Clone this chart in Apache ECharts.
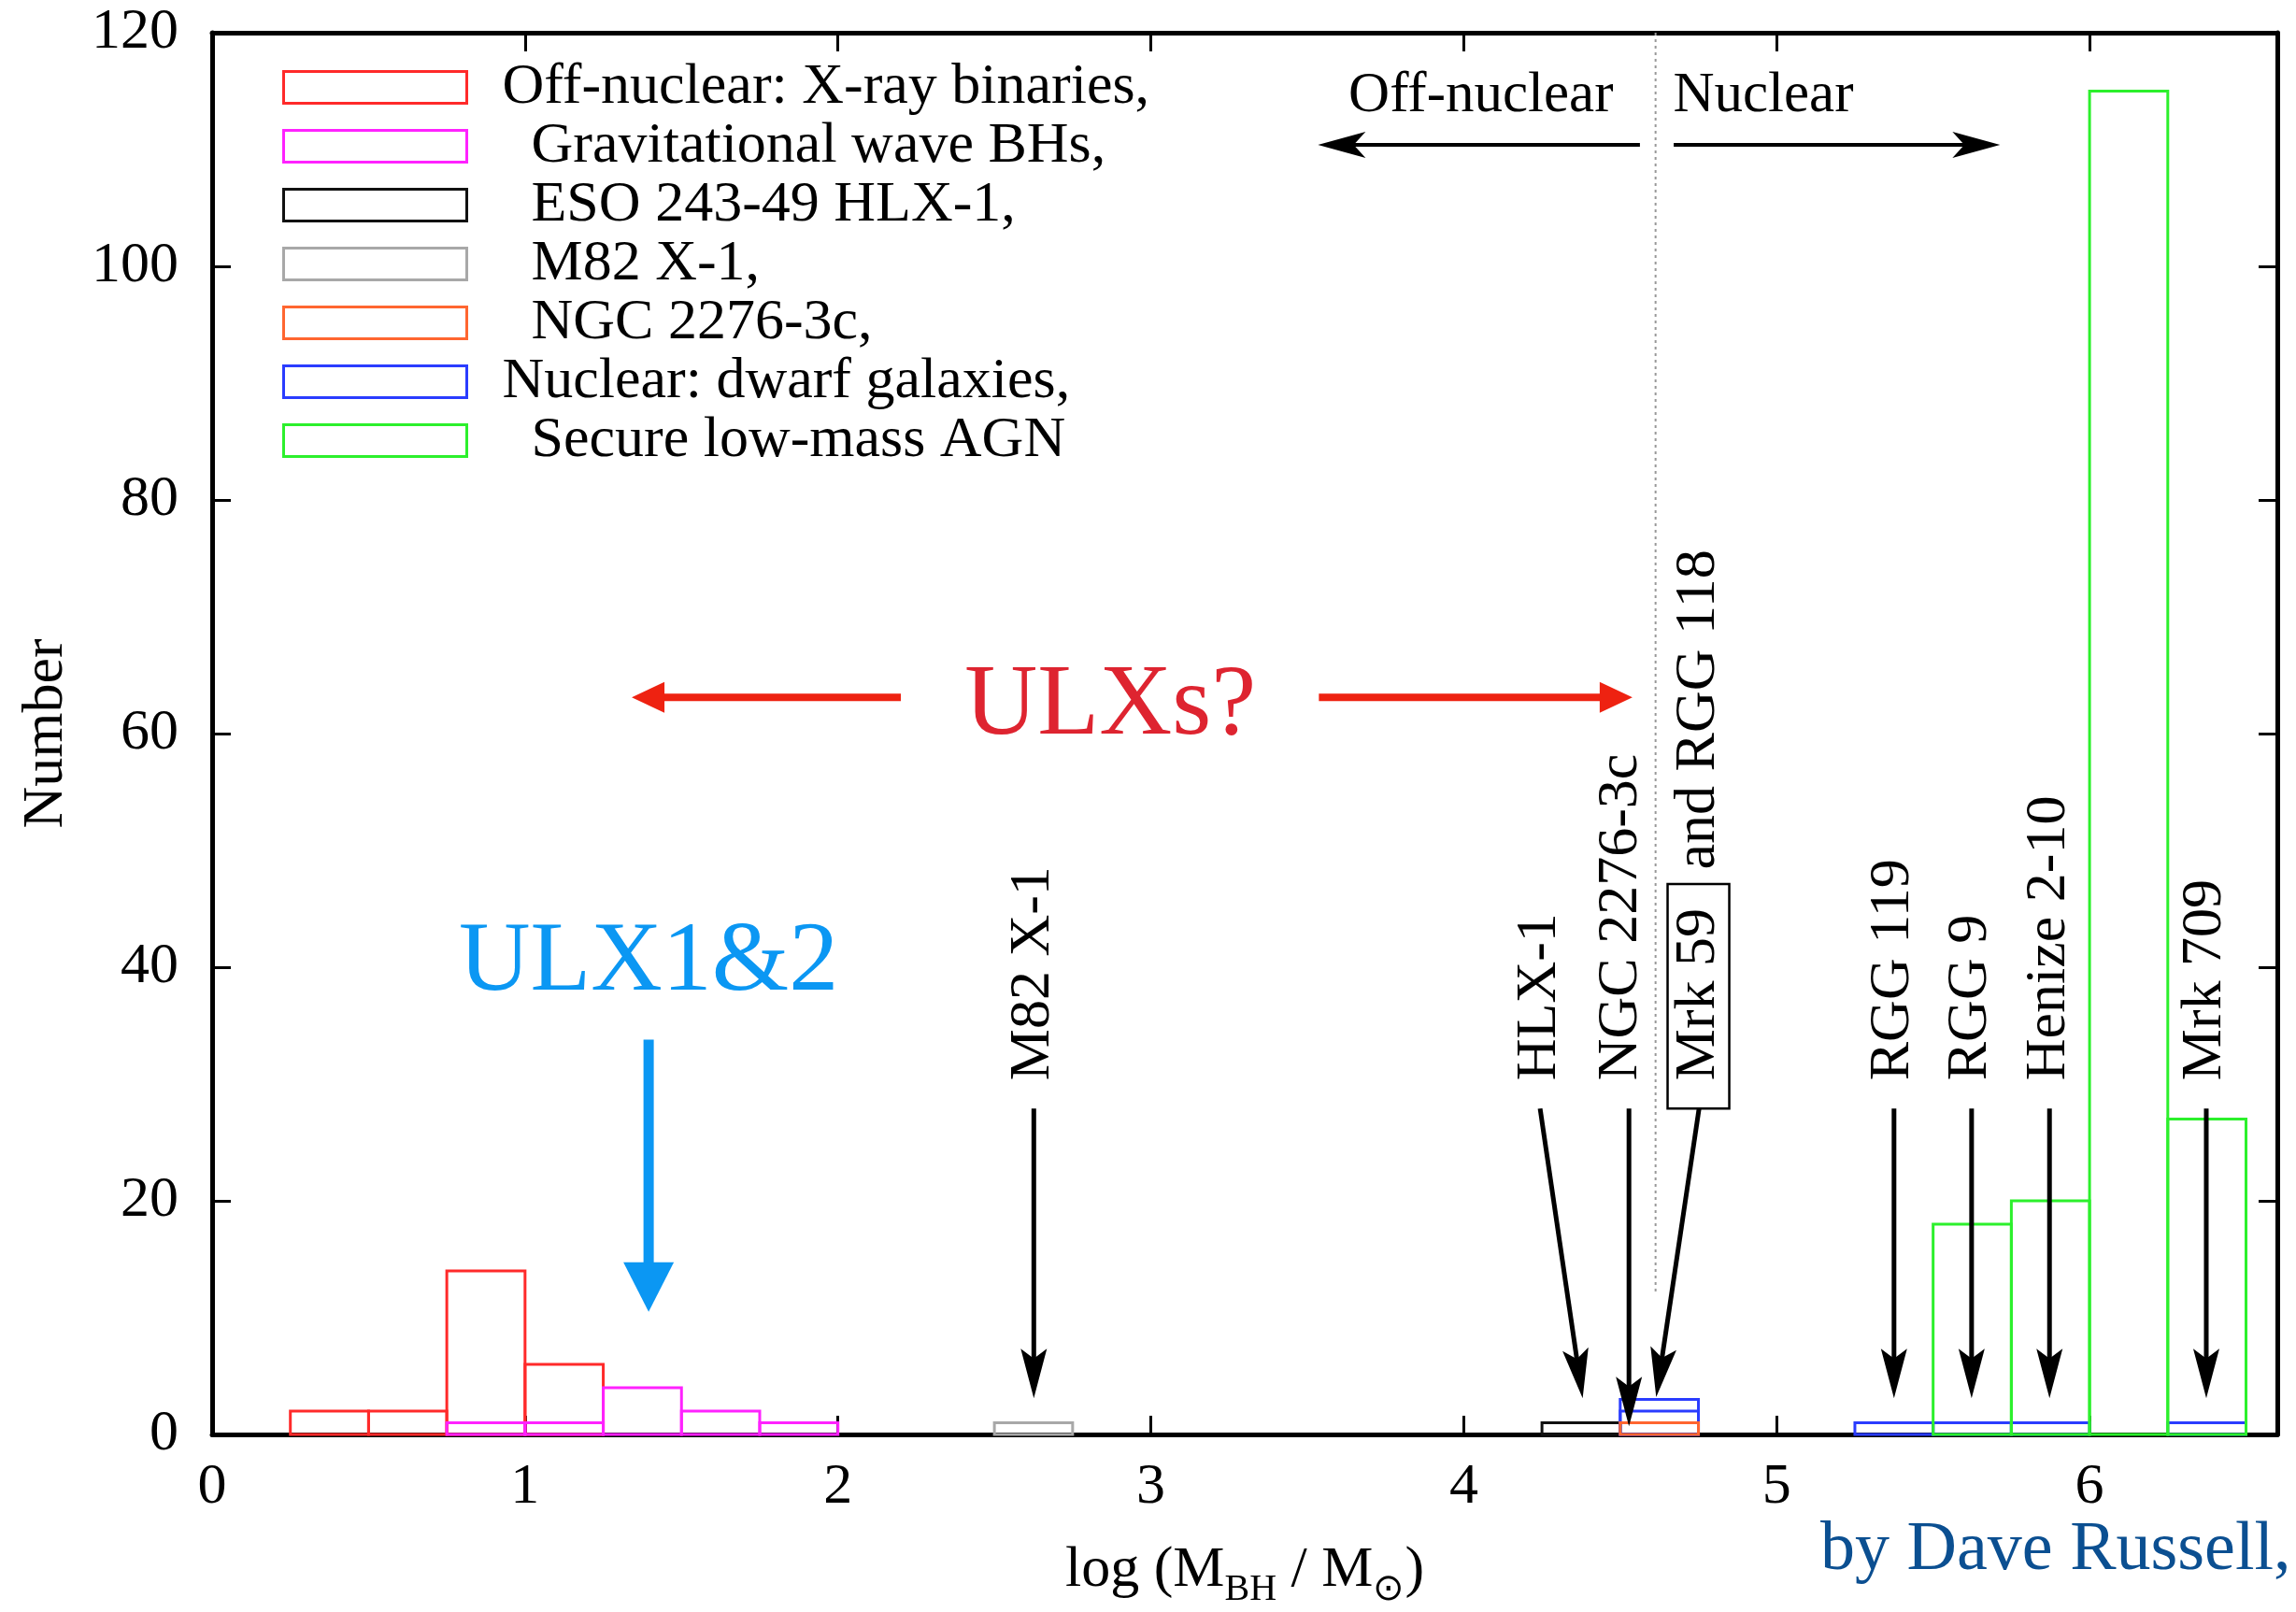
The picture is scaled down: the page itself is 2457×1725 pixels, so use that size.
<!DOCTYPE html>
<html><head><meta charset="utf-8">
<script src="https://cdn.jsdelivr.net/npm/echarts@6/dist/echarts.min.js"></script>
<style>html,body{margin:0;padding:0;background:#fff}#c{width:2457px;height:1725px}</style>
</head><body><div id="c"></div>
<script>
// ---------------- data ----------------
const BIN = 0.25;
const X_MIN = 0, X_MAX = 6.6, X_STEP = 1;
const Y_MIN = 0, Y_MAX = 120, Y_STEP = 20;

const seriesNames = [
  'Off-nuclear: X-ray binaries,',
  'Gravitational wave BHs,',
  'ESO 243-49 HLX-1,',
  'M82 X-1,',
  'NGC 2276-3c,',
  'Nuclear: dwarf galaxies,',
  'Secure low-mass AGN'
];
const xrbBins = [0.25, 0.5, 0.75, 1.0];
const xrbCounts = [2, 2, 14, 6];
const gwBins = [0.75, 1.0, 1.25, 1.5, 1.75];
const gwCounts = [1, 1, 4, 2, 1];
const hlxBins = [4.25];
const hlxCounts = [1];
const m82Bins = [2.5];
const m82Counts = [1];
const ngcBins = [4.5];
const ngcCounts = [1];
const dwarfBins = [4.5, 5.25, 5.5, 5.75, 6.25];
const dwarfCounts = [3, 1, 1, 1, 1];
const dwarfSubBins = [4.5];
const dwarfSubCounts = [2];
const agnBins = [5.5, 5.75, 6.0, 6.25];
const agnCounts = [18, 20, 115, 27];

// annotations (data space)
const objLabels = ['M82 X-1', 'HLX-1', 'NGC 2276-3c', 'Mrk 59|and RGG 118', 'RGG 119', 'RGG 9', 'Henize 2-10', 'Mrk 709'];
const objArrowFromX = [2.626, 4.244, 4.528, 4.752, 5.375, 5.623, 5.872, 6.373];
const objArrowToX   = [2.626, 4.380, 4.528, 4.615, 5.375, 5.623, 5.872, 6.373];
const objArrowToY   = [3.1, 3.1, 0.7, 3.2, 3.1, 3.1, 3.1, 3.1];
const objLabelX     = [2.623, 4.244, 4.503, 4.750, 5.372, 5.621, 5.870, 6.368];
const OBJ_ARROW_FROM_Y = 27.9;
const OBJ_LABEL_Y = 30.3;

const divideX = 4.613;
const divideYFrom = 12.2;

// ---------------- styles ----------------
const colors = ['#ff2a2a', '#ff22ff', '#111111', '#a8a8a8', '#ff6630', '#2a3cff', '#2cf02c'];
const SERIF = '"Liberation Serif", "Times New Roman", serif';
const FS = 62;

const chart = echarts.init(document.getElementById('c'), null, {renderer: 'canvas'});

function histSeries(name, bins, counts, color, z) {
  return {
    type: 'custom', name: name, z: z,
    coordinateSystem: 'cartesian2d',
    itemStyle: {color: color},
    data: bins.map((b, i) => [b, counts[i]]),
    renderItem: function (params, api) {
      const x0 = api.value(0), n = api.value(1);
      const p0 = api.coord([x0, 0]);
      const p1 = api.coord([x0 + BIN, n]);
      return {
        type: 'rect',
        shape: {x: p0[0], y: p1[1], width: p1[0] - p0[0], height: p0[1] - p1[1]},
        style: {fill: 'none', stroke: color, lineWidth: 3}
      };
    },
    silent: true
  };
}

const indented = new Set([seriesNames[1], seriesNames[2], seriesNames[3], seriesNames[4], seriesNames[6]]);

const axisCommon = {
  axisLine: {show: true, onZero: false, lineStyle: {color: '#000', width: 5}},
  axisTick: {show: true, inside: true, length: 20, lineStyle: {color: '#000', width: 3}},
  splitLine: {show: false}
};

const option = {
  backgroundColor: '#fff',
  animation: false,
  grid: {left: 227, right: 20, top: 35, bottom: 190, containLabel: false, outerBoundsMode: 'none'},
  legend: {
    orient: 'vertical', left: 302, top: 62, padding: 0,
    itemWidth: 196, itemHeight: 34, itemGap: 0, icon: 'rect',
    selectedMode: false,
    data: seriesNames.map((n, i) => ({name: n, itemStyle: {color: 'rgba(0,0,0,0)', borderColor: colors[i], borderWidth: 3}})),
    formatter: function (name) { return indented.has(name) ? '{b|' + name + '}' : '{a|' + name + '}'; },
    textStyle: {
      fontFamily: SERIF, fontSize: FS, color: '#000', lineHeight: 63,
      rich: {
        a: {fontFamily: SERIF, fontSize: FS, color: '#000', lineHeight: 63, padding: [0, 0, 0, 33]},
        b: {fontFamily: SERIF, fontSize: FS, color: '#000', lineHeight: 63, padding: [0, 0, 0, 64]}
      }
    }
  },
  xAxis: [
    Object.assign({}, axisCommon, {
      type: 'value', position: 'bottom', min: X_MIN, max: X_MAX, interval: X_STEP,
      axisLabel: {show: true, fontFamily: SERIF, fontSize: FS, color: '#000', margin: 26, showMaxLabel: false,
        formatter: v => (Math.abs(v - Math.round(v)) < 1e-9 ? String(Math.round(v)) : '')},
      name: 'log (M{s|BH} / M{s|⊙})', nameLocation: 'middle', nameGap: 106,
      nameTextStyle: {fontFamily: SERIF, fontSize: FS, color: '#000',
        rich: {s: {fontFamily: SERIF, fontSize: 40, color: '#000', verticalAlign: 'bottom', lineHeight: 80}}}
    }),
    Object.assign({}, axisCommon, {
      type: 'value', position: 'top', min: X_MIN, max: X_MAX, interval: X_STEP,
      axisLabel: {show: false}
    })
  ],
  yAxis: [
    Object.assign({}, axisCommon, {
      type: 'value', position: 'left', min: Y_MIN, max: Y_MAX, interval: Y_STEP,
      axisLabel: {show: true, fontFamily: SERIF, fontSize: FS, color: '#000', margin: 36},
      name: 'Number', nameLocation: 'middle', nameRotate: 90, nameGap: 146,
      nameTextStyle: {fontFamily: SERIF, fontSize: FS, color: '#000'}
    }),
    Object.assign({}, axisCommon, {
      type: 'value', position: 'right', min: Y_MIN, max: Y_MAX, interval: Y_STEP,
      axisLabel: {show: false}
    })
  ],
  series: [
    histSeries(seriesNames[0], xrbBins, xrbCounts, colors[0], 2),
    histSeries(seriesNames[1], gwBins, gwCounts, colors[1], 3),
    histSeries(seriesNames[2], hlxBins, hlxCounts, colors[2], 2),
    histSeries(seriesNames[3], m82Bins, m82Counts, colors[3], 2),
    histSeries(seriesNames[5], dwarfBins, dwarfCounts, colors[5], 2),
    histSeries('dwarf-sub', dwarfSubBins, dwarfSubCounts, colors[5], 2),
    histSeries(seriesNames[4], ngcBins, ngcCounts, colors[4], 3),
    histSeries(seriesNames[6], agnBins, agnCounts, colors[6], 2)
  ]
};
chart.setOption(option);

// ---------------- annotations ----------------
function px(x, y) { return chart.convertToPixel({gridIndex: 0}, [x, y]); }

function arrowEls(p0, p1, color, lw, headL, headW, notch) {
  const dx = p1[0] - p0[0], dy = p1[1] - p0[1];
  const len = Math.hypot(dx, dy), ux = dx / len, uy = dy / len, nx = -uy, ny = ux;
  const back = [p1[0] - ux * headL, p1[1] - uy * headL];
  const nb = [p1[0] - ux * headL * notch, p1[1] - uy * headL * notch];
  return [
    {type: 'line', z: 100, silent: true, shape: {x1: p0[0], y1: p0[1], x2: nb[0] + ux * 2, y2: nb[1] + uy * 2},
      style: {stroke: color, lineWidth: lw}},
    {type: 'polygon', z: 100, silent: true, shape: {points: [
      [p1[0], p1[1]],
      [back[0] + nx * headW / 2, back[1] + ny * headW / 2],
      [nb[0], nb[1]],
      [back[0] - nx * headW / 2, back[1] - ny * headW / 2]
    ]}, style: {fill: color}}
  ];
}

const els = [];
// object labels + arrows
objLabels.forEach((lab, i) => {
  const a0 = px(objArrowFromX[i], OBJ_ARROW_FROM_Y);
  const a1 = px(objArrowToX[i], objArrowToY[i]);
  els.push(...arrowEls(a0, a1, '#000', 5, 53, 28, 0.8));
  const boxed = lab.indexOf('|') >= 0;
  const lp = px(objLabelX[i], OBJ_LABEL_Y);
  const parts = lab.split('|');
  els.push({
    type: 'text', z: 100, silent: true,
    x: lp[0], y: boxed ? a0[1] : lp[1], rotation: Math.PI / 2,
    style: boxed ? {
      text: '{bx|' + parts[0] + '} ' + parts[1],
      fontFamily: SERIF, fontSize: FS, fill: '#000', align: 'left', verticalAlign: 'middle',
      rich: {bx: {fontFamily: SERIF, fontSize: FS, fill: '#000', color: '#000', borderColor: '#000', borderWidth: 2.5,
        padding: [2, 26, 2, 30]}}
    } : {
      text: lab, fontFamily: SERIF, fontSize: FS, fill: '#000', align: 'left', verticalAlign: 'middle'
    }
  });
});

// dotted divider
const d0 = px(divideX, Y_MAX), d1 = px(divideX, divideYFrom);
els.push({type: 'line', z: 90, silent: true, shape: {x1: d0[0], y1: d0[1], x2: d1[0], y2: d1[1]},
  style: {stroke: '#999', lineWidth: 2, lineDash: [3, 4]}});

// Off-nuclear / Nuclear
const tOff = px(4.478, 114.55), tNuc = px(4.669, 114.55);
els.push({type: 'text', z: 100, silent: true, x: tOff[0], y: tOff[1],
  style: {text: 'Off-nuclear', fontFamily: SERIF, fontSize: 61, fill: '#000', align: 'right', verticalAlign: 'middle'}});
els.push({type: 'text', z: 100, silent: true, x: tNuc[0], y: tNuc[1],
  style: {text: 'Nuclear', fontFamily: SERIF, fontSize: 61, fill: '#000', align: 'left', verticalAlign: 'middle'}});
els.push(...arrowEls(px(4.563, 110.4), px(3.534, 110.4), '#000', 4, 51, 28, 0.75));
els.push(...arrowEls(px(4.671, 110.4), px(5.714, 110.4), '#000', 4, 51, 28, 0.75));

// ULXs? with red arrows
const tU = px(2.405, 62.3);
els.push({type: 'text', z: 100, silent: true, x: tU[0], y: tU[1],
  style: {text: 'ULXs?', fontFamily: SERIF, fontSize: 108, fill: '#de2430', align: 'left', verticalAlign: 'middle'}});
els.push(...arrowEls(px(2.201, 63.1), px(1.341, 63.1), '#ee2211', 8, 35, 33, 1));
els.push(...arrowEls(px(3.537, 63.1), px(4.539, 63.1), '#ee2211', 8, 35, 33, 1));

// ULX1&2 with blue arrow
const tB = px(1.395, 40.3);
els.push({type: 'text', z: 100, silent: true, x: tB[0], y: tB[1],
  style: {text: 'ULX1&2', fontFamily: SERIF, fontSize: 106, fill: '#0b97f3', align: 'center', verticalAlign: 'middle'}});
els.push(...arrowEls(px(1.395, 33.8), px(1.395, 10.5), '#0b97f3', 11, 53, 54, 1));

// credit
els.push({type: 'text', z: 100, silent: true, x: 1948, y: 1660,
  style: {text: 'by Dave Russell,', fontFamily: SERIF, fontSize: 74, fill: '#0b4f91', align: 'left', verticalAlign: 'middle'}});

chart.setOption({graphic: {elements: els}});
</script>
</body></html>
